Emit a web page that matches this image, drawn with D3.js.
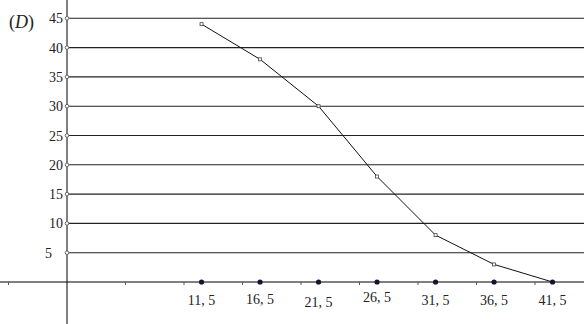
<!DOCTYPE html>
<html>
<head>
<meta charset="utf-8">
<script src="https://cdn.jsdelivr.net/npm/d3@7"></script>
<style>
body { margin: 0; background: #fff; }
text { font-family: "Liberation Serif", "DejaVu Serif", serif; fill: #222; }
</style>
</head>
<body>
<script>
// class midpoints and decreasing cumulative counts
const centres = [11.5, 16.5, 21.5, 26.5, 31.5, 36.5, 41.5];
const counts = [44, 38, 30, 18, 8, 3, 0];
const xLabels = ["11, 5", "16, 5", "21, 5", "26, 5", "31, 5", "36, 5", "41, 5"];
const yTicks = [5, 10, 15, 20, 25, 30, 35, 40, 45];
const xMinor = [-5, 5, 10, 15, 20, 25, 30, 35, 40];

const w = 584, h = 324;

const svg = d3.select("body").append("svg")
  .attr("width", w)
  .attr("height", h);

const x = d3.scaleLinear().domain([0, 5]).range([67, 125.5]);
const y = d3.scaleLinear().domain([0, 45]).range([282, 18.3]);

// horizontal grid lines
svg.selectAll("line.grid")
  .data(yTicks)
  .enter()
  .append("line")
  .attr("x1", x(0))
  .attr("x2", w)
  .attr("y1", d => y(d))
  .attr("y2", d => y(d))
  .attr("stroke", "#222")
  .attr("stroke-width", 1.1);

// axes
svg.append("line")
  .attr("x1", 0).attr("x2", w)
  .attr("y1", y(0)).attr("y2", y(0))
  .attr("stroke", "#000");
svg.append("line")
  .attr("x1", x(0)).attr("x2", x(0))
  .attr("y1", 0).attr("y2", h)
  .attr("stroke", "#000");

// small ticks under x axis
svg.selectAll("line.minor")
  .data(xMinor)
  .enter()
  .append("line")
  .attr("x1", d => x(d)).attr("x2", d => x(d))
  .attr("y1", y(0)).attr("y2", y(0) + 3)
  .attr("stroke", "#555");

// y tick circles + labels
svg.selectAll("circle.ytick")
  .data(yTicks)
  .enter()
  .append("circle")
  .attr("cx", x(0))
  .attr("cy", d => y(d))
  .attr("r", 1.8)
  .attr("fill", "#fff")
  .attr("stroke", "#666")
  .attr("stroke-width", 1);

svg.selectAll("text.ylab")
  .data(yTicks)
  .enter()
  .append("text")
  .attr("x", d => d == 5 ? x(0) - 15 : x(0) - 4)
  .attr("y", d => y(d) + 5)
  .attr("text-anchor", "end")
  .style("font-size", "14px")
  .text(d => d);

svg.append("text")
  .attr("x", 9)
  .attr("y", 28)
  .style("font-size", "18px")
  .html('(<tspan font-style="italic">D</tspan>)');

// x labels
svg.selectAll("text.xlab")
  .data(centres)
  .enter()
  .append("text")
  .attr("x", d => x(d))
  .attr("y", (d, i) => [305, 304, 307, 302, 305, 305, 305][i])
  .attr("text-anchor", "middle")
  .style("font-size", "14px")
  .text((d, i) => xLabels[i]);

// dots on x axis
svg.selectAll("circle.xdot")
  .data(centres)
  .enter()
  .append("circle")
  .attr("cx", d => x(d))
  .attr("cy", y(0))
  .attr("r", 2.6)
  .attr("fill", "#14142e");

// the polygon
const line = d3.line()
  .x((d, i) => x(centres[i]))
  .y(d => y(d));

svg.append("path")
  .datum(counts)
  .attr("d", line)
  .attr("fill", "none")
  .attr("stroke", "#111")
  .attr("stroke-width", 1);

svg.selectAll("rect.pt")
  .data(counts.slice(0, 6))
  .enter()
  .append("rect")
  .attr("x", (d, i) => x(centres[i]) - 1.5)
  .attr("y", d => y(d) - 1.5)
  .attr("width", 3)
  .attr("height", 3)
  .attr("fill", "#fff")
  .attr("stroke", "#444")
  .attr("stroke-width", 0.8);
</script>
</body>
</html>
